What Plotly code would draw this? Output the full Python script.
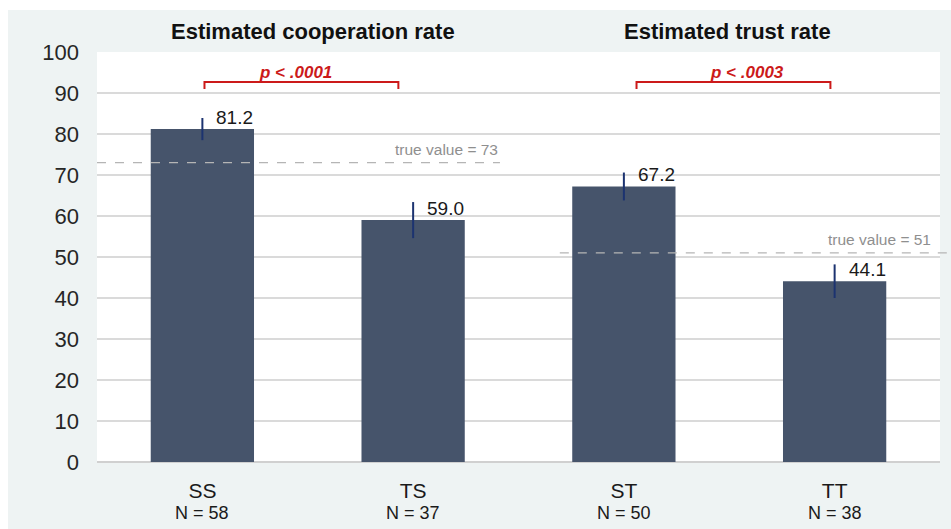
import plotly.graph_objects as go

# Group labels, sample sizes and estimated rates (%)
categories = ["SS", "TS", "ST", "TT"]
sample_sizes = [58, 37, 50, 38]
rates = [81.2, 59.0, 67.2, 44.1]
errors = [2.7, 4.4, 3.4, 4.1]

panel_titles = ["Estimated cooperation rate", "Estimated trust rate"]
true_values = [73, 51]
p_labels = ["p < .0001", "p < .0003"]

FONT = "Liberation Sans, Arial, sans-serif"
BAR = "#46546b"
RED = "#cc1a1a"
GREY_TXT = "#8f8f8f"

x_pos = list(range(len(categories)))

fig = go.Figure()
fig.add_trace(go.Bar(
    x=x_pos,
    y=rates,
    width=0.49,
    marker=dict(color=BAR, line=dict(width=0)),
    error_y=dict(type="data", array=errors, visible=True,
                 color="#1c3370", thickness=2, width=0),
    hoverinfo="skip",
    showlegend=False,
))

annotations = []
shapes = []

# value labels next to the error bars
for xi, v in zip(x_pos, rates):
    annotations.append(dict(
        x=xi, y=v, xref="x", yref="y", text=f"{v:.1f}",
        showarrow=False, xanchor="left", yanchor="middle",
        xshift=12, yshift=12,
        font=dict(family=FONT, size=19, color="#1a1a1a"),
    ))

# sample sizes under the category labels
for xi, n in zip(x_pos, sample_sizes):
    annotations.append(dict(
        x=xi, y=-0.1234, xref="x", yref="paper", text=f"N = {n}",
        showarrow=False, xanchor="center", yanchor="middle",
        font=dict(family=FONT, size=18, color="#1a1a1a"),
    ))

# panel titles
for xc, t in zip([0.525, 2.492], panel_titles):
    annotations.append(dict(
        x=xc, y=1.0495, xref="x", yref="paper", text=f"<b>{t}</b>",
        showarrow=False, xanchor="center", yanchor="middle",
        font=dict(family=FONT, size=22, color="#111111"),
    ))

# significance brackets
brackets = [(0.01, 0.93), (2.06, 2.98)]
p_x = [0.444, 2.583]
for (x0, x1), px, lab in zip(brackets, p_x, p_labels):
    shapes.append(dict(
        type="path", xref="x", yref="y",
        path=f"M {x0},91.0 L {x0},92.7 L {x1},92.7 L {x1},91.0",
        line=dict(color=RED, width=2),
    ))
    annotations.append(dict(
        x=px, y=95.1, xref="x", yref="y", text=f"<b><i>{lab}</i></b>",
        showarrow=False, xanchor="center", yanchor="middle",
        font=dict(family=FONT, size=17, color=RED),
    ))

# dashed reference lines for the true values
ref_spans = [(0.0, 0.478), (0.549, 1.013)]
label_right = [0.478, 0.992]
for (x0, x1), xr, tv in zip(ref_spans, label_right, true_values):
    shapes.append(dict(
        type="line", xref="paper", yref="y",
        x0=x0, x1=x1, y0=tv, y1=tv,
        line=dict(color="#b5b5b5", width=1.2, dash="dash"),
    ))
    annotations.append(dict(
        x=xr, y=tv, xref="paper", yref="y", text=f"true value = {tv}",
        showarrow=False, xanchor="right", yanchor="bottom", yshift=3,
        font=dict(family=FONT, size=15.5, color=GREY_TXT),
    ))

# white outer margin strips around the panel
shapes.append(dict(type="rect", xref="paper", yref="paper",
                   x0=-0.2, x1=-0.1056, y0=-0.3, y1=1.2,
                   fillcolor="white", line=dict(width=0), layer="above"))
shapes.append(dict(type="rect", xref="paper", yref="paper",
                   x0=-0.2, x1=1.1, y0=1.1024, y1=1.2,
                   fillcolor="white", line=dict(width=0), layer="above"))

fig.update_layout(
    width=951, height=529,
    margin=dict(l=97, r=11, t=52, b=67),
    paper_bgcolor="#eef3f3",
    plot_bgcolor="white",
    font=dict(family=FONT),
    bargap=0.51,
    annotations=annotations,
    shapes=shapes,
    xaxis=dict(
        range=[-0.5, 3.5],
        tickmode="array", tickvals=x_pos, ticktext=categories,
        tickfont=dict(family=FONT, size=21, color="#1a1a1a"),
        showgrid=False, zeroline=False, showline=False,
        ticks="", ticklabelstandoff=14,
        fixedrange=True,
    ),
    yaxis=dict(
        range=[0, 100],
        tickmode="array", tickvals=list(range(0, 101, 10)),
        tickfont=dict(family=FONT, size=22, color="#262626"),
        showgrid=True, gridcolor="#dadada", gridwidth=1.5,
        zeroline=True, zerolinecolor="#d0d0d0", zerolinewidth=1.5,
        showline=False, ticks="", ticklabelstandoff=17,
        fixedrange=True,
    ),
)

fig.write_html("out.html")
